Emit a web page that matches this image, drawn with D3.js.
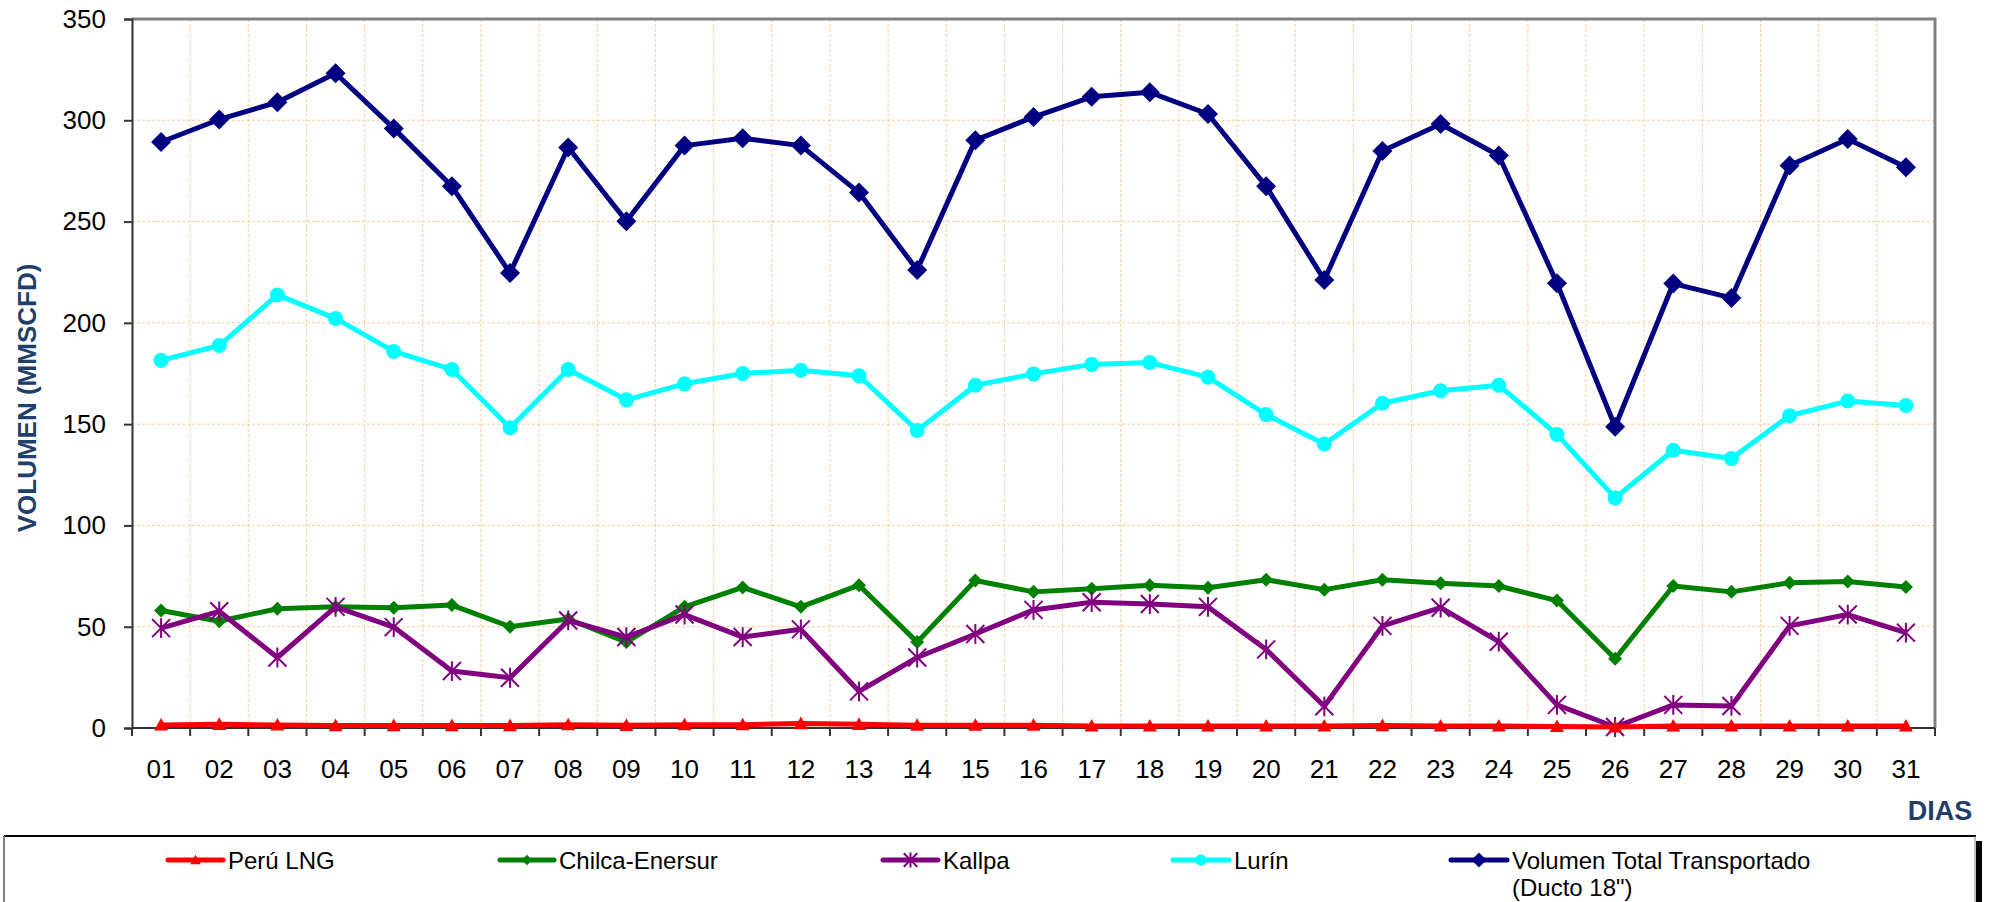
<!DOCTYPE html>
<html>
<head>
<meta charset="utf-8">
<title>Volumen transportado</title>
<script src="https://cdn.jsdelivr.net/npm/d3@7"></script>
<style>
  body { margin: 0; background: #fff; }
  text { font-family: Arial, "Liberation Sans", sans-serif; }
  .grid line { stroke: #ffcc99; stroke-width: 1; stroke-dasharray: 3,2; }
  .axis-title { font-weight: bold; fill: #1f3f6b; font-size: 26px; }
</style>
</head>
<body>
<svg id="chart" width="1998" height="902"></svg>
<script>
var days = ["01","02","03","04","05","06","07","08","09","10","11","12","13","14","15","16",
            "17","18","19","20","21","22","23","24","25","26","27","28","29","30","31"];

var peruLng = [1.5,1.8,1.5,1.2,1.2,1.2,1.2,1.6,1.3,1.6,1.6,2.2,1.8,1.4,1.4,1.4,
               1.0,1.0,1.0,1.0,1.0,1.2,1.0,1.0,0.8,0.5,1.0,1.0,1.0,1.0,1.0];
var chilca = [58,52.7,58.9,59.8,59.4,60.7,50,53.8,42.4,59.8,69.4,59.8,70.5,42.4,72.8,67.2,
              68.8,70.5,69.2,73.2,68.3,73.2,71.4,70.1,62.9,34.2,70.1,67.2,71.7,72.3,69.6];
var kallpa = [49.3,57.6,34.8,59.8,49.8,28.1,24.8,53.1,44.9,56,44.9,48.7,18.1,34.8,46.4,58.3,
              62.1,61.2,59.8,38.8,10.7,50.4,59.4,42.6,11.4,0.5,11.4,10.9,50.4,56,47.1];
var lurin = [181.5,188.8,213.8,202.2,185.9,177,148.2,177,162,169.9,175,176.6,173.9,146.9,169.2,174.8,
             179.5,180.4,173.2,154.7,140.2,160.3,166.5,169.2,144.9,113.6,137.1,133,154.2,161.4,159.2];
var total = [289.3,300.4,308.9,323.2,296,267.4,224.6,286.6,250.2,287.5,291.1,287.5,264.3,226.1,290.2,301.6,
             311.6,313.8,303.1,267.4,221.2,284.8,298.2,282.6,219.6,148.7,219.4,212.3,277.7,290.8,276.8];

var yTicks = [0,50,100,150,200,250,300,350];

var series = [
  {name: "Perú LNG", values: peruLng, color: "#ff0000", marker: "triangle"},
  {name: "Chilca-Enersur", values: chilca, color: "#008000", marker: "smalldiamond"},
  {name: "Kallpa", values: kallpa, color: "#800080", marker: "star"},
  {name: "Lurín", values: lurin, color: "#00ffff", marker: "circle"},
  {name: "Volumen Total Transportado", name2: "(Ducto 18\")", values: total, color: "#000080", marker: "diamond"}
];

var svg = d3.select("#chart");
var plotLeft = 132, plotRight = 1935, plotTop = 19, plotBottom = 728;

var x = d3.scaleBand().domain(days).range([plotLeft, plotRight]).padding(0);
var y = d3.scaleLinear().domain([0, 350]).range([plotBottom, plotTop]);
var bw = x.bandwidth();

// grid
var grid = svg.append("g").attr("class", "grid");
grid.selectAll(".h").data(yTicks.slice(1, -1)).enter().append("line")
  .attr("x1", plotLeft).attr("x2", plotRight)
  .attr("y1", function(d) { return y(d); }).attr("y2", function(d) { return y(d); });
grid.selectAll(".v").data(days.slice(1)).enter().append("line")
  .attr("x1", function(d) { return x(d); }).attr("x2", function(d) { return x(d); })
  .attr("y1", plotTop).attr("y2", plotBottom);

// frame top/right
svg.append("path")
  .attr("d", "M" + plotLeft + "," + plotTop + "H" + plotRight + "V" + plotBottom)
  .attr("fill", "none").attr("stroke", "#808080").attr("stroke-width", 3);

// y axis
var yAxis = svg.append("g").attr("transform", "translate(" + plotLeft + ",0)")
  .call(d3.axisLeft(y).tickValues(yTicks).tickSize(8).tickPadding(18));
yAxis.select(".domain").attr("stroke", "#333").attr("stroke-width", 2);
yAxis.selectAll(".tick line").attr("stroke", "#333").attr("stroke-width", 2);
yAxis.selectAll("text").attr("font-size", 26).attr("fill", "#000")
  .style("font-family", "Arial, 'Liberation Sans', sans-serif");

// x axis: ticks between categories
var xg = svg.append("g");
xg.append("line").attr("x1", plotLeft).attr("x2", plotRight).attr("y1", plotBottom).attr("y2", plotBottom)
  .attr("stroke", "#333").attr("stroke-width", 2);
var bounds = days.map(function(d) { return x(d); }).concat([plotRight]);
xg.selectAll(".xt").data(bounds).enter().append("line")
  .attr("x1", function(d) { return d; }).attr("x2", function(d) { return d; })
  .attr("y1", plotBottom).attr("y2", plotBottom + 8)
  .attr("stroke", "#333").attr("stroke-width", 2);
xg.selectAll(".xl").data(days).enter().append("text")
  .attr("x", function(d) { return x(d) + bw / 2; })
  .attr("y", 778)
  .attr("text-anchor", "middle")
  .attr("font-size", 26)
  .text(function(d) { return d; });

// axis titles
svg.append("text").attr("class", "axis-title")
  .attr("transform", "translate(36,398) rotate(-90)")
  .attr("text-anchor", "middle")
  .text("VOLUMEN (MMSCFD)");
svg.append("text").attr("class", "axis-title")
  .attr("x", 1940).attr("y", 820).attr("text-anchor", "middle")
  .style("font-size", "27px")
  .text("DIAS");

function drawMarker(g, type, cx, cy, color, k) {
  if (type === "diamond") {
    var r = 10 * k;
    g.append("path").attr("d", "M" + cx + "," + (cy - r) + "L" + (cx + r) + "," + cy + "L" + cx + "," + (cy + r) + "L" + (cx - r) + "," + cy + "Z")
      .attr("fill", color);
  } else if (type === "smalldiamond") {
    var r2 = 7 * k;
    g.append("path").attr("d", "M" + cx + "," + (cy - r2) + "L" + (cx + r2) + "," + cy + "L" + cx + "," + (cy + r2) + "L" + (cx - r2) + "," + cy + "Z")
      .attr("fill", color);
  } else if (type === "circle") {
    g.append("circle").attr("cx", cx).attr("cy", cy).attr("r", 7.5 * k).attr("fill", color);
  } else if (type === "triangle") {
    var h = 7 * k;
    g.append("path").attr("d", "M" + cx + "," + (cy - h) + "L" + (cx + h) + "," + (cy + h * 0.8) + "L" + (cx - h) + "," + (cy + h * 0.8) + "Z")
      .attr("fill", color);
  } else if (type === "star") {
    var s = 9 * k;
    g.append("path")
      .attr("d", "M" + (cx - s) + "," + (cy - s) + "L" + (cx + s) + "," + (cy + s) +
                 "M" + (cx - s) + "," + (cy + s) + "L" + (cx + s) + "," + (cy - s) +
                 "M" + cx + "," + (cy - s * 1.1) + "L" + cx + "," + (cy + s * 1.1))
      .attr("stroke", color).attr("stroke-width", 2).attr("fill", "none");
  }
}

var line = d3.line()
  .x(function(d, i) { return x(days[i]) + bw / 2; })
  .y(function(d) { return y(d); });

// draw order: total, lurin, chilca, kallpa, peru
var order = [4, 3, 1, 2, 0];
order.forEach(function(idx) {
  var s = series[idx];
  var g = svg.append("g");
  g.append("path").datum(s.values)
    .attr("d", line)
    .attr("fill", "none")
    .attr("stroke", s.color)
    .attr("stroke-width", 5)
    .attr("stroke-linejoin", "round");
  s.values.forEach(function(v, i) {
    drawMarker(g, s.marker, x(days[i]) + bw / 2, y(v), s.color, 1);
  });
});

// legend
var lg = svg.append("g");
lg.append("rect").attr("x", 4).attr("y", 836).attr("width", 1971).attr("height", 80)
  .attr("fill", "#fff").attr("stroke", "none");
lg.append("line").attr("x1", 4).attr("x2", 1976).attr("y1", 836).attr("y2", 836)
  .attr("stroke", "#000").attr("stroke-width", 2);
lg.append("line").attr("x1", 4).attr("x2", 4).attr("y1", 836).attr("y2", 902)
  .attr("stroke", "#808080").attr("stroke-width", 2);
lg.append("line").attr("x1", 1975).attr("x2", 1975).attr("y1", 836).attr("y2", 902)
  .attr("stroke", "#808080").attr("stroke-width", 1);
lg.append("rect").attr("x", 1976).attr("y", 841).attr("width", 6).attr("height", 61).attr("fill", "#000");

var legendX = [168, 500, 883, 1173, 1451];
var legendLen = [55, 54, 55, 56, 56];
series.forEach(function(s, i) {
  var lx = legendX[i], ly = 860;
  lg.append("line").attr("x1", lx).attr("x2", lx + legendLen[i]).attr("y1", ly).attr("y2", ly)
    .attr("stroke", s.color).attr("stroke-width", 5).attr("stroke-linecap", "round");
  drawMarker(lg, s.marker, lx + legendLen[i] / 2, ly, s.color, 0.75);
  lg.append("text").attr("x", lx + legendLen[i] + 5).attr("y", ly + 9)
    .attr("font-size", 24).text(s.name);
  if (s.name2) {
    lg.append("text").attr("x", lx + legendLen[i] + 5).attr("y", ly + 36)
      .attr("font-size", 24).text(s.name2);
  }
});
</script>
</body>
</html>
